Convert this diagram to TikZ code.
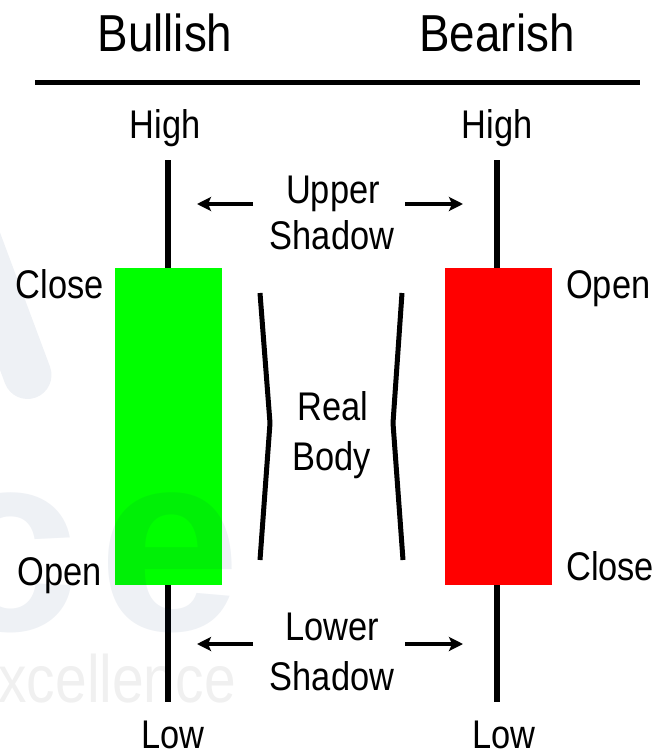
\documentclass[tikz,border=0pt]{standalone}
\usepackage{fontspec}
\setmainfont{Liberation Sans}
\usetikzlibrary{arrows.meta}

\definecolor{bullgreen}{RGB}{0,255,0}
\definecolor{bearred}{RGB}{255,0,0}
\definecolor{wmark}{RGB}{0,40,100}

\begin{document}
\begin{tikzpicture}[x=1pt,y=-1pt,line join=round,
  title/.style={font=\fontsize{52}{52}\selectfont,xscale=0.88,inner sep=0pt,anchor=base},
  lbl/.style={font=\fontsize{40}{40}\selectfont,xscale=0.86,inner sep=0pt,anchor=base},
  wick/.style={line width=5.5pt},
  arr/.style={line width=4pt,-{Stealth[length=14pt,width=14pt,inset=3pt]}},
  brace/.style={line width=5pt}]

% ===== parameters (pixels of the sheet) =====
\def\xL{168}     % bullish candle axis
\def\xR{498}     % bearish candle axis
\def\hw{53.5}    % half width of the real body
\def\yHi{160}    % top of the upper shadow
\def\yLo{702}    % bottom of the lower shadow
\def\yTop{268}   % top of the real body
\def\yBot{585}   % bottom of the real body
\def\wmop{0.065} % watermark opacity

\useasboundingbox (0,0) rectangle (666,752);

% ===== heading =====
\node[title] (bull) at (165,52) {Bullish};
\node[title] (bear) at (497,52) {Bearish};
\draw[line width=5pt] (35,82) -- (640,82);

% ===== shadows (wicks) =====
\draw[wick] (\xL,\yHi) -- (\xL,\yLo);
\draw[wick] (\xR-1,\yHi) -- (\xR-1,\yLo);

% ===== real bodies =====
\fill[bullgreen] (\xL-\hw,\yTop) rectangle (\xL+\hw,\yBot);
\fill[bearred]   (\xR-\hw,\yTop) rectangle (\xR+\hw,\yBot);

% ===== watermark (faint, behind the labels) =====
\begin{scope}
  \clip (0,0) rectangle (666,752);
  \draw[wmark,opacity=\wmop,line width=48pt,line cap=round] (-75,100) -- (27.5,375);
  \node[text=wmark,opacity=\wmop,font=\fontsize{256}{256}\selectfont\bfseries,
        inner sep=0pt,anchor=base] (wmc) at (8,630) {c};
  \node[text=wmark,opacity=\wmop,font=\fontsize{256}{256}\selectfont\bfseries,
        inner sep=0pt,anchor=base] (wme) at (170,630) {e};
  \node[text=black,opacity=0.06,font=\fontsize{67}{67}\selectfont,xscale=0.85,
        inner sep=0pt,anchor=base east] (wmx) at (236,702) {xcellence};
\end{scope}

% ===== price labels =====
\node[lbl] (highL) at (165,138) {High};
\node[lbl] (highR) at (497,138) {High};
\node[lbl] (lowL)  at (173,748) {Low};
\node[lbl] (lowR)  at (504,748) {Low};
\node[lbl,anchor=base east] (closeL) at (104,298) {Close};
\node[lbl,anchor=base east] (openL)  at (102,585) {Open};
\node[lbl,anchor=base west] (openR)  at (566,298) {Open};
\node[lbl,anchor=base west] (closeR) at (566,580) {Close};

% ===== upper shadow =====
\node[lbl] (upA) at (333,203) {Upper};
\node[lbl] (upB) at (332,249) {Shadow};
\coordinate (upLt) at (253,204);
\coordinate (upLh) at (197,204);
\coordinate (upRt) at (405,204);
\coordinate (upRh) at (463,204);
\draw[arr] (upLt) -- (upLh);
\draw[arr] (upRt) -- (upRh);

% ===== real body =====
\node[lbl] (rbA) at (333,420) {Real};
\node[lbl] (rbB) at (332,470) {Body};
\draw[brace] (260,293) -- (270,423) -- (260,560);
\draw[brace] (402,293) -- (393,423) -- (403,560);

% ===== lower shadow =====
\node[lbl] (loA) at (332,640) {Lower};
\node[lbl] (loB) at (332,690) {Shadow};
\coordinate (loLt) at (253,644);
\coordinate (loLh) at (197,644);
\coordinate (loRt) at (405,644);
\coordinate (loRh) at (463,644);
\draw[arr] (loLt) -- (loLh);
\draw[arr] (loRt) -- (loRh);

\end{tikzpicture}
\end{document}
